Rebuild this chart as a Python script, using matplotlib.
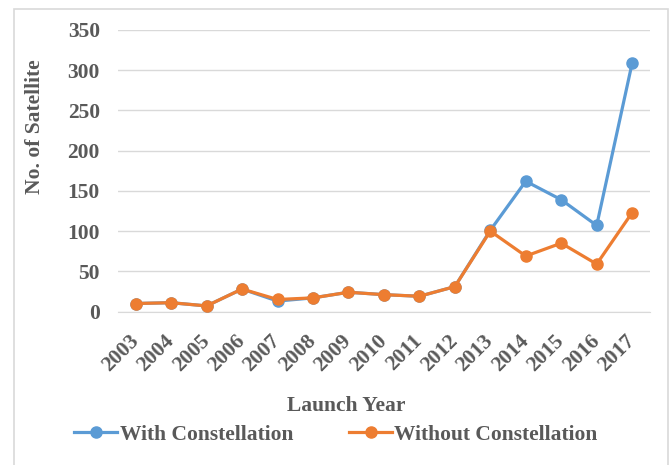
import matplotlib
matplotlib.use("Agg")
import matplotlib.pyplot as plt
from matplotlib.patches import Rectangle

# data
years = ["2003", "2004", "2005", "2006", "2007", "2008", "2009", "2010",
         "2011", "2012", "2013", "2014", "2015", "2016", "2017"]
with_const = [10, 11, 7, 28, 13, 17, 24, 21, 19, 31, 101, 162, 139, 107, 309]
without_const = [10, 11, 7, 28, 15, 17, 24, 21, 19, 31, 100, 69, 85, 59, 123]

BLUE = "#5B9BD5"
ORANGE = "#ED7D31"
TXT = "#595959"
FS = 15.5

plt.rcParams["font.family"] = ["Liberation Serif", "DejaVu Serif"]
plt.rcParams["font.weight"] = "bold"

fig = plt.figure(figsize=(6.7, 4.65), dpi=100)
ax = fig.add_axes([0.176, 0.33, 0.794, 0.6055])

x = range(len(years))
ax.plot(x, with_const, color=BLUE, lw=2.3, marker="o", ms=8,
        label="With Constellation", zorder=3)
ax.plot(x, without_const, color=ORANGE, lw=2.3, marker="o", ms=8,
        label="Without Constellation", zorder=4)

ax.set_xlim(-0.5, len(years) - 0.5)
ax.set_ylim(0, 350)
ax.set_yticks(range(0, 351, 50))
ax.set_xticks(list(x))
ax.set_xticklabels(years, rotation=45, ha="right", va="center",
                   rotation_mode="anchor")
ax.tick_params(axis="both", length=0, labelsize=FS, labelcolor=TXT)
ax.tick_params(axis="y", pad=13)
ax.tick_params(axis="x", pad=19)

for s in ["top", "right", "left"]:
    ax.spines[s].set_visible(False)
ax.spines["bottom"].set_color("#d9d9d9")
ax.grid(axis="y", color="#d9d9d9", lw=1)
ax.set_axisbelow(True)

ax.set_ylabel("No. of Satellite", fontsize=FS, color=TXT, fontweight="bold")
ax.yaxis.set_label_coords(-0.137, 0.656)
ax.set_xlabel("Launch Year", fontsize=FS, color=TXT, fontweight="bold")
ax.xaxis.set_label_coords(0.429, -0.300)

leg = fig.legend(loc="center", bbox_to_anchor=(336 / 670, 1 - 435 / 465),
                 ncol=2, frameon=False, fontsize=FS, handlelength=2.0,
                 handletextpad=0.1, columnspacing=2.6)
for t in leg.get_texts():
    t.set_color(TXT)

# light outer border like the exported chart area
fig.patches.append(Rectangle((14 / 670, -0.02), 654 / 670, 1.0 - 9 / 465 + 0.02,
                             transform=fig.transFigure, fill=False,
                             edgecolor="#d9d9d9", lw=1.2))

fig.savefig("out.png", dpi=100)
